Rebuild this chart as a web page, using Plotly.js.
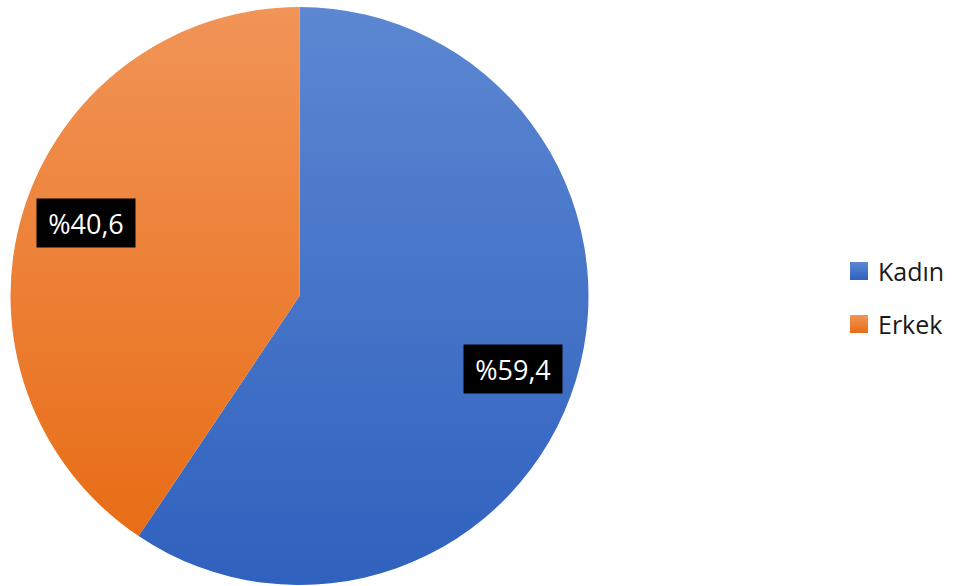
<!DOCTYPE html>
<html>
<head>
<meta charset="utf-8">
<script src="https://cdn.plot.ly/plotly-3.0.1.min.js"></script>
<style>html,body{margin:0;padding:0;background:#fff;}#chart{width:958px;height:586px;}</style>
</head>
<body>
<div id="chart"></div>
<script>
// ---- data ----
const labels = ["Kadın", "Erkek"];
const values = [59.4, 40.6];
const labelTexts = ["%59,4", "%40,6"];

// ---- style ----
const colors = ["#4876CB", "#EE8032"];
const gradTop = ["#5C87D2", "#F19457"];
const gradBottom = ["#2F61BE", "#E86D16"];
const W = 958, H = 586;
const cxPx = 299.5, cyPx = 296, rPx = 289;
const labelRadiusFrac = 0.78, labelAngleOffsetDeg = 2.1;
const fontFam = "'Open Sans', 'Liberation Sans', sans-serif";

const trace = {
  type: "pie",
  labels: labels,
  values: values,
  sort: false,
  direction: "clockwise",
  rotation: 0,
  textinfo: "none",
  hoverinfo: "label+percent",
  marker: { colors: colors, line: { width: 0 } },
  domain: {
    x: [(cxPx - rPx) / W, (cxPx + rPx) / W],
    y: [(H - (cyPx + rPx)) / H, (H - (cyPx - rPx)) / H]
  },
  showlegend: false
};

// data labels positioned from slice mid-angles
const total = values.reduce((a, b) => a + b, 0);
let cum = 0;
const annotations = [];
values.forEach((v, i) => {
  const mid = (cum + v / 2) / total * 360 + labelAngleOffsetDeg;
  cum += v;
  const a = mid * Math.PI / 180;
  const px = cxPx + rPx * labelRadiusFrac * Math.sin(a);
  const py = cyPx - rPx * labelRadiusFrac * Math.cos(a);
  annotations.push({
    x: px / W, y: 1 - py / H, xref: "paper", yref: "paper",
    text: labelTexts[i], showarrow: false,
    font: { family: fontFam, size: 27, color: "#ffffff" },
    bgcolor: "#000000", borderpad: 6, width: 86, height: 36,
    xanchor: "center", yanchor: "middle"
  });
});

// custom legend
const shapes = [];
const legX = 850, legSq = 18, legY0 = 262, legGap = 53;
labels.forEach((l, i) => {
  const y0 = legY0 + i * legGap;
  shapes.push({
    type: "rect", xref: "paper", yref: "paper",
    x0: legX / W, x1: (legX + legSq) / W,
    y0: 1 - (y0 + legSq) / H, y1: 1 - y0 / H,
    fillcolor: colors[i], line: { width: 0 }, name: "leg" + i
  });
  annotations.push({
    x: (legX + legSq + 8) / W, y: 1 - (y0 + legSq / 2) / H,
    xref: "paper", yref: "paper", text: l, showarrow: false,
    font: { family: fontFam, size: 25, color: "#1a1a1a" },
    xanchor: "left", yanchor: "middle"
  });
});

const layout = {
  width: W, height: H,
  margin: { l: 0, r: 0, t: 0, b: 0 },
  paper_bgcolor: "#ffffff",
  showlegend: false,
  annotations: annotations,
  shapes: shapes
};

Plotly.newPlot("chart", [trace], layout, { displayModeBar: false, staticPlot: true }).then(() => {
  // apply vertical gradients like the original
  const svg = document.querySelector("#chart .main-svg");
  const ns = "http://www.w3.org/2000/svg";
  const defs = document.createElementNS(ns, "defs");
  colors.forEach((c, i) => {
    const g = document.createElementNS(ns, "linearGradient");
    g.setAttribute("id", "grad" + i);
    g.setAttribute("x1", "0"); g.setAttribute("y1", "0");
    g.setAttribute("x2", "0"); g.setAttribute("y2", "1");
    const s1 = document.createElementNS(ns, "stop");
    s1.setAttribute("offset", "0"); s1.setAttribute("stop-color", gradTop[i]);
    const s2 = document.createElementNS(ns, "stop");
    s2.setAttribute("offset", "1"); s2.setAttribute("stop-color", gradBottom[i]);
    g.appendChild(s1); g.appendChild(s2); defs.appendChild(g);
  });
  svg.insertBefore(defs, svg.firstChild);
  document.querySelectorAll("#chart .slice path.surface").forEach((p, i) => {
    p.style.fill = "url(#grad" + i + ")";
  });
  document.querySelectorAll("#chart .shapelayer path").forEach((p, i) => {
    if (i < colors.length) p.style.fill = "url(#grad" + i + ")";
  });
});
</script>
</body>
</html>
